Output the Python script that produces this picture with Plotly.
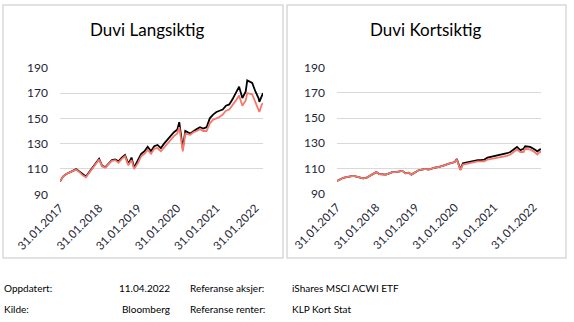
import plotly.graph_objects as go

# ---------------- data ----------------
dates = [
    "2017-01-31", "2017-02-28", "2017-03-31", "2017-04-30", "2017-05-31", "2017-06-30",
    "2017-07-31", "2017-08-31", "2017-09-30", "2017-10-31", "2017-11-30", "2017-12-31",
    "2018-01-31", "2018-02-28", "2018-03-31", "2018-04-30", "2018-05-31", "2018-06-30",
    "2018-07-31", "2018-08-31", "2018-09-30", "2018-10-31", "2018-11-30", "2018-12-24",
    "2019-01-31", "2019-02-28", "2019-03-31", "2019-04-30", "2019-05-31", "2019-06-30",
    "2019-07-31", "2019-08-31", "2019-09-30", "2019-10-31", "2019-11-30", "2019-12-31",
    "2020-01-31", "2020-02-19", "2020-03-23", "2020-04-15", "2020-05-31", "2020-06-30",
    "2020-07-31", "2020-08-31", "2020-09-30", "2020-10-31", "2020-11-30", "2020-12-31",
    "2021-01-31", "2021-02-28", "2021-03-31", "2021-04-30", "2021-05-31", "2021-06-30",
    "2021-07-31", "2021-08-31", "2021-09-30", "2021-10-31", "2021-11-15", "2021-12-31",
    "2022-01-31", "2022-02-28", "2022-03-08", "2022-03-31", "2022-04-11",
]

lang_duvi = [
    100, 104, 106, 107, 108.5, 110, 108, 105.5, 104, 107.5, 110.5, 114.5,
    118, 112.5, 111.5, 114.5, 117, 117.5, 116, 119, 121, 114, 119, 111,
    117, 122, 124, 127.5, 124, 128, 129, 126.5, 130, 133, 136, 139,
    141, 147, 126, 140, 138, 140, 141.5, 143, 142, 143, 150, 153,
    155, 156, 157, 160, 161, 165, 170, 175, 166, 171, 180, 178,
    171, 166, 163, 169, 170,
]
lang_ref = [
    100, 104, 106, 107, 108, 109.5, 107.5, 105, 103.5, 107, 110, 114,
    117.5, 112, 111, 114, 116.5, 117, 115, 118, 120, 113, 117, 110,
    115, 120, 122, 125, 122, 126, 126.5, 124, 127, 130, 133, 136,
    138, 143, 124, 138, 137, 139, 140, 141.5, 140, 140, 146, 149,
    150, 151, 153, 156, 157, 160, 164, 168, 160, 164, 170, 169,
    163, 158, 155, 161, 162,
]

kort_duvi = [
    100, 101.5, 102.5, 103, 103.5, 104, 103.5, 103, 102, 102.5, 104, 105.5,
    107, 105.5, 105, 105, 106, 107, 107, 107.5, 108, 106, 106.5, 105,
    107, 108.5, 109, 109.5, 109, 110, 110.5, 111, 111.5, 112.5, 113.5, 114.5,
    115, 117.5, 109, 114, 115, 115.5, 116, 116.5, 116.5, 117, 118.5, 119,
    119.5, 120, 120.5, 121.5, 122, 123, 125, 127, 124.5, 125.5, 127.5, 127,
    125.5, 124, 123.5, 125, 125,
]
kort_ref = [
    100, 101.5, 102.5, 103, 103.5, 104, 103.5, 103, 102, 102.5, 104, 105.5,
    107, 105.5, 105, 105, 106, 107, 107, 107.5, 108, 106, 106.5, 105,
    107, 108.5, 109, 109.5, 109, 110, 110.5, 111, 111.5, 112.5, 113.5, 114.5,
    115, 117, 108.5, 113, 114, 114.5, 115, 115.5, 115.5, 115.5, 117, 117.5,
    118, 118, 119, 119.5, 120, 121, 123, 125, 123, 123, 125.5, 125,
    123.5, 122, 121, 123, 123,
]

tick_dates = ["2017-01-31", "2018-01-31", "2019-01-31", "2020-01-31", "2021-01-31", "2022-01-31"]
tick_labels = ["31.01.2017", "31.01.2018", "31.01.2019", "31.01.2020", "31.01.2021", "31.01.2022"]
y_ticks = [90, 110, 130, 150, 170, 190]

titles = ["Duvi Langsiktig", "Duvi Kortsiktig"]
footer_rows = [
    ["Oppdatert:", "11.04.2022", "Referanse aksjer:", "iShares MSCI ACWI ETF"],
    ["Kilde:", "Bloomberg", "Referanse renter:", "KLP Kort Stat"],
]

# ---------------- figure ----------------
W, H = 574, 322
BLACK = "#000000"
SALMON = "#F8766A"
FONT = "Lato, Carlito, 'Open Sans', sans-serif"
TICKCOL = "#1E2535"

fig = go.Figure()

fig.add_trace(go.Scatter(x=dates, y=lang_duvi, mode="lines", line=dict(color=BLACK, width=1.8),
                         xaxis="x", yaxis="y", showlegend=False))
fig.add_trace(go.Scatter(x=dates, y=lang_ref, mode="lines", line=dict(color=SALMON, width=1.8),
                         xaxis="x", yaxis="y", showlegend=False))
fig.add_trace(go.Scatter(x=dates, y=kort_duvi, mode="lines", line=dict(color=BLACK, width=1.8),
                         xaxis="x2", yaxis="y2", showlegend=False))
fig.add_trace(go.Scatter(x=dates, y=kort_ref, mode="lines", line=dict(color=SALMON, width=1.8),
                         xaxis="x2", yaxis="y2", showlegend=False))

def px_x(p):
    return p / W

def px_y(p):
    return 1 - p / H

xcommon = dict(type="date", range=["2017-01-31", "2022-04-11"], tickmode="array",
               tickvals=tick_dates, ticktext=tick_labels, tickangle=-45, automargin=False,
               showgrid=False, zeroline=False, showline=False, ticks="", ticklabelstandoff=4,
               tickfont=dict(family=FONT, size=11.5, color=TICKCOL), fixedrange=True)
ycommon = dict(range=[90, 190], tickmode="array", tickvals=y_ticks, showgrid=True,
               gridcolor="#D9D9D9", gridwidth=1, zeroline=False, showline=False, ticks="",
               automargin=False, ticklabelstandoff=11,
               tickfont=dict(family=FONT, size=12, color=TICKCOL), fixedrange=True)

fig.update_layout(
    width=W, height=H,
    autosize=False,
    margin=dict(l=0, r=0, t=0, b=0, pad=0, autoexpand=False),
    paper_bgcolor="white", plot_bgcolor="white",
    font=dict(family=FONT, color="#000000"),
    xaxis=dict(domain=[px_x(60), px_x(263)], anchor="y", **xcommon),
    yaxis=dict(domain=[px_y(194.3), px_y(67.7)], anchor="x", **ycommon),
    xaxis2=dict(domain=[px_x(337), px_x(541)], anchor="y2", **xcommon),
    yaxis2=dict(domain=[px_y(193.5), px_y(67.7)], anchor="x2", **ycommon),
)

# panel borders
for x0, x1 in [(3, 283), (287, 566)]:
    fig.add_shape(type="rect", xref="paper", yref="paper",
                  x0=px_x(x0), x1=px_x(x1), y0=px_y(258), y1=px_y(5),
                  line=dict(color="#D9D9D9", width=1.5), fillcolor="rgba(0,0,0,0)", layer="below")

# titles
for cx, t in zip([147, 426], titles):
    fig.add_annotation(x=px_x(cx), y=px_y(29), xref="paper", yref="paper", text=t,
                       showarrow=False, xanchor="center", yanchor="middle",
                       font=dict(family=FONT, size=17, color="#000000"))

# footer
col_x = [2, 172, 188, 290]
col_anchor = ["left", "right", "left", "left"]
for row, ypix in zip(footer_rows, [288, 309]):
    for txt, cx, anc in zip(row, col_x, col_anchor):
        fig.add_annotation(x=px_x(cx), y=px_y(ypix), xref="paper", yref="paper", text=txt,
                           showarrow=False, xanchor=anc, yanchor="middle",
                           font=dict(family=FONT, size=10, color="#000000"))

fig.write_html("out.html")
